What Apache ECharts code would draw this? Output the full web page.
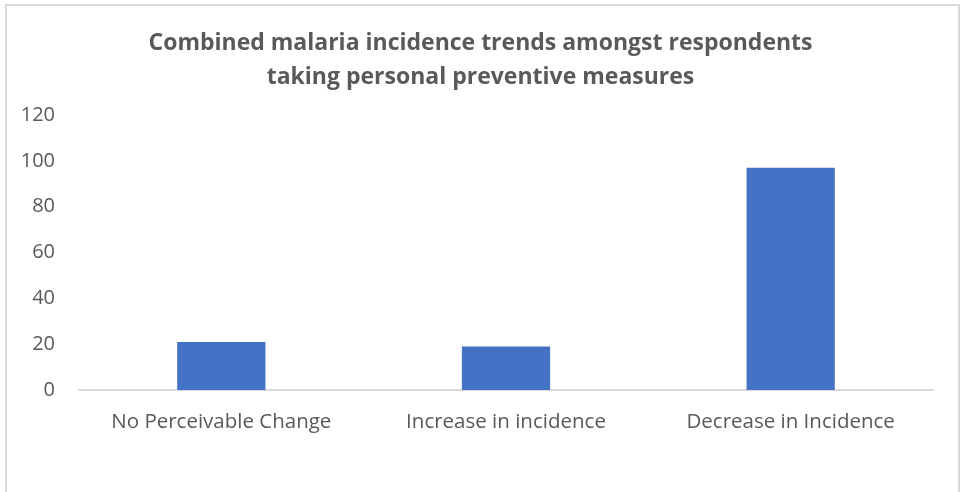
<!DOCTYPE html>
<html>
<head>
<meta charset="utf-8">
<script src="https://cdn.jsdelivr.net/npm/echarts@6/dist/echarts.min.js"></script>
<style>
  html, body { margin: 0; padding: 0; background: #fff; }
  #chart { width: 961px; height: 492px; }
</style>
</head>
<body>
<div id="chart"></div>
<script>
// Malaria incidence trends among respondents using personal preventive measures
const categories = ['No Perceivable Change', 'Increase in incidence', 'Decrease in Incidence'];
const respondents = [21, 19, 97];
const titleLines = ['Combined malaria incidence trends amongst respondents', 'taking personal preventive measures'];

const chart = echarts.init(document.getElementById('chart'), null, { renderer: 'canvas' });
const labelFont = '"Open Sans", "Noto Sans", sans-serif';

chart.setOption({
  backgroundColor: '#ffffff',
  animation: false,
  graphic: [{
    type: 'rect',
    shape: { x: 6, y: 5, width: 953, height: 500 },
    style: { fill: 'none', stroke: '#d9d9d9', lineWidth: 2 },
    silent: true
  }],
  title: {
    text: titleLines.join('\n'),
    left: 'center',
    top: 26,
    padding: 0,
    textStyle: {
      fontFamily: labelFont,
      fontSize: 23,
      fontWeight: 'bold',
      color: '#595959',
      lineHeight: 34
    }
  },
  grid: { left: 79, right: 28, top: 115, bottom: 102, containLabel: false },
  xAxis: {
    type: 'category',
    data: categories,
    axisLine: { show: true, lineStyle: { color: '#d9d9d9', width: 2 } },
    axisTick: { show: false },
    axisLabel: {
      interval: 0,
      hideOverlap: false,
      color: '#595959',
      fontFamily: labelFont,
      fontSize: 20.5,
      margin: 22
    }
  },
  yAxis: {
    type: 'value',
    min: 0,
    max: 120,
    interval: 20,
    axisLine: { show: false },
    axisTick: { show: false },
    splitLine: { show: false },
    axisLabel: { color: '#595959', fontFamily: labelFont, fontSize: 20, margin: 24 }
  },
  series: [{
    type: 'bar',
    data: respondents,
    barWidth: '31%',
    itemStyle: { color: '#4472c4' }
  }]
});
</script>
</body>
</html>
